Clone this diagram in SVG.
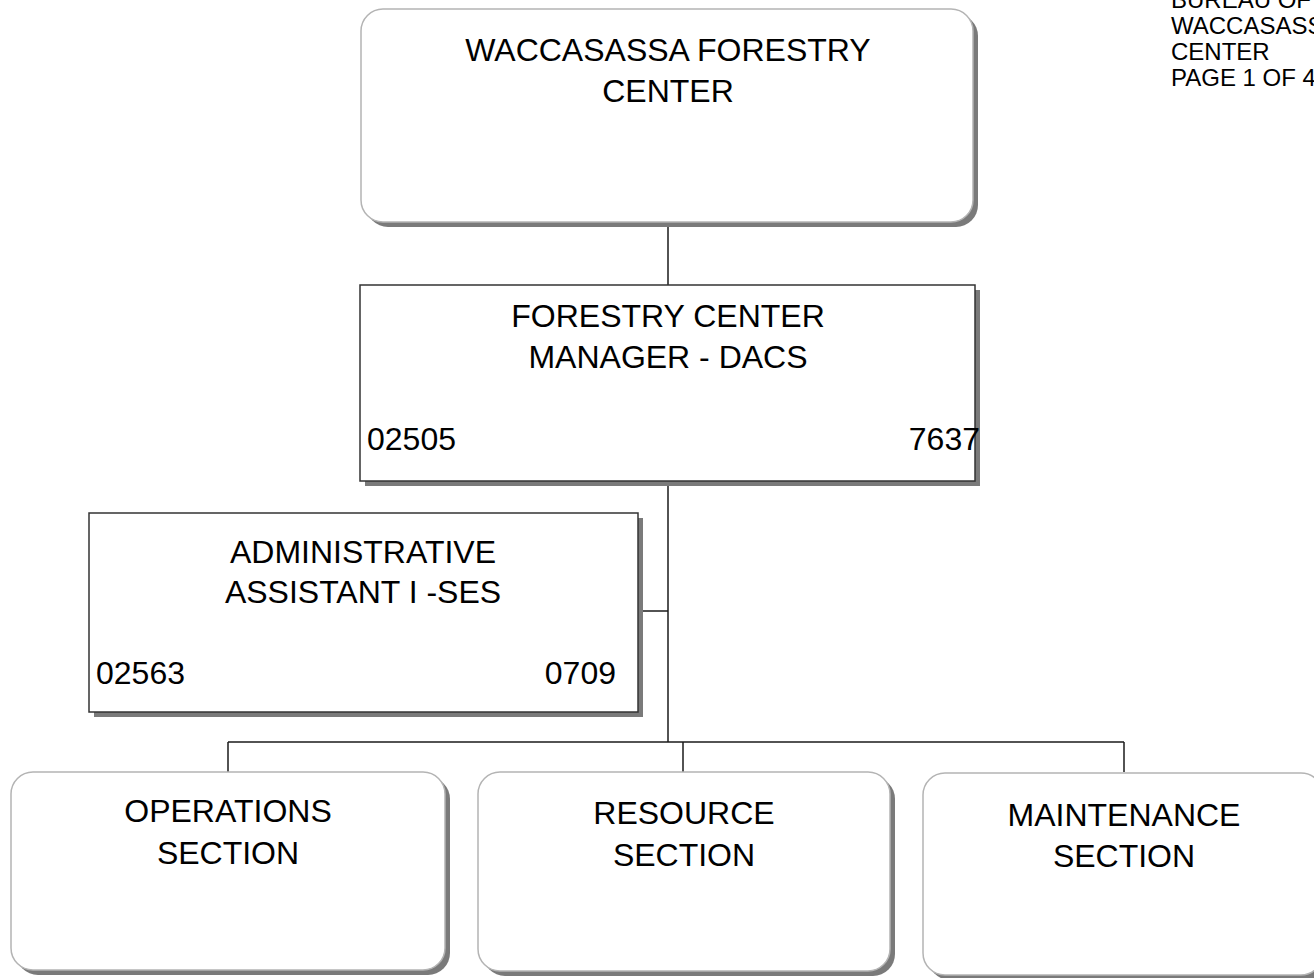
<svg xmlns="http://www.w3.org/2000/svg" width="1314" height="978" viewBox="0 0 1314 978">
  <style>
    .bg { fill: #ffffff; }
    .shadow { fill: #7a7a7a; }
    .rbox { fill: #ffffff; stroke: #b4b4b4; stroke-width: 1.5; }
    .sbox { fill: #ffffff; stroke: #333333; stroke-width: 1.5; }
    .lbl { font-family: "Liberation Sans", Arial, sans-serif; font-size: 32px; fill: #000000; }
    .mid { text-anchor: middle; }
    .end { text-anchor: end; }
    .note { font-family: "Liberation Sans", Arial, sans-serif; font-size: 24px; fill: #000000; }
    .wire { stroke: #1a1a1a; stroke-width: 1.5; fill: none; }
  </style>

  <rect class="bg" x="0" y="0" width="1314" height="978"/>

  <!-- page header, top right (runs off the sheet edge) -->
  <g id="header">
    <text class="note" x="1171" y="8">BUREAU OF</text>
    <text class="note" x="1171" y="34">WACCASASS</text>
    <text class="note" x="1171" y="60">CENTER</text>
    <text class="note" x="1171" y="86">PAGE 1 OF 4</text>
  </g>

  <!-- connectors -->
  <g id="connectors">
    <path class="wire" d="M668,222 V285"/>
    <path class="wire" d="M668,481 V742"/>
    <path class="wire" d="M638,611 H668"/>
    <path class="wire" d="M228,742 H1124"/>
    <path class="wire" d="M228,742 V772"/>
    <path class="wire" d="M683,742 V772"/>
    <path class="wire" d="M1124,742 V772"/>
  </g>

  <!-- forestry center -->
  <g id="center">
    <rect class="shadow" x="366" y="14" width="612" height="213" rx="22"/>
    <rect class="rbox" x="361" y="9" width="612" height="213" rx="22"/>
    <text class="lbl mid" x="668" y="61">WACCASASSA FORESTRY</text>
    <text class="lbl mid" x="668" y="102">CENTER</text>
  </g>

  <!-- manager -->
  <g id="manager">
    <rect class="shadow" x="365" y="290" width="615" height="196"/>
    <rect class="sbox" x="360" y="285" width="615" height="196"/>
    <text class="lbl mid" x="668" y="327">FORESTRY CENTER</text>
    <text class="lbl mid" x="668" y="368">MANAGER - DACS</text>
    <text class="lbl" x="367" y="450">02505</text>
    <text class="lbl end" x="980" y="450">7637</text>
  </g>

  <!-- administrative assistant -->
  <g id="admin">
    <rect class="shadow" x="94" y="518" width="549" height="199"/>
    <rect class="sbox" x="89" y="513" width="549" height="199"/>
    <text class="lbl mid" x="363" y="563">ADMINISTRATIVE</text>
    <text class="lbl mid" x="363" y="603">ASSISTANT I -SES</text>
    <text class="lbl" x="96" y="684">02563</text>
    <text class="lbl end" x="616" y="684">0709</text>
  </g>

  <!-- operations section -->
  <g id="operations">
    <rect class="shadow" x="16" y="777" width="434" height="198" rx="22"/>
    <rect class="rbox" x="11" y="772" width="434" height="198" rx="22"/>
    <text class="lbl mid" x="228" y="822">OPERATIONS</text>
    <text class="lbl mid" x="228" y="864">SECTION</text>
  </g>

  <!-- resource section -->
  <g id="resource">
    <rect class="shadow" x="483" y="777" width="412" height="199" rx="22"/>
    <rect class="rbox" x="478" y="772" width="412" height="199" rx="22"/>
    <text class="lbl mid" x="684" y="824">RESOURCE</text>
    <text class="lbl mid" x="684" y="866">SECTION</text>
  </g>

  <!-- maintenance section -->
  <g id="maintenance">
    <rect class="shadow" x="928" y="778" width="400" height="202" rx="22"/>
    <rect class="rbox" x="923" y="773" width="400" height="202" rx="22"/>
    <text class="lbl mid" x="1124" y="826">MAINTENANCE</text>
    <text class="lbl mid" x="1124" y="867">SECTION</text>
  </g>
</svg>
